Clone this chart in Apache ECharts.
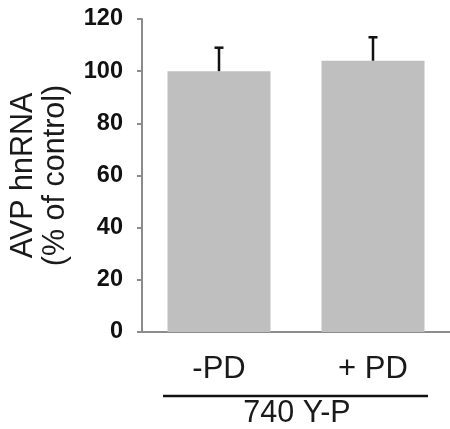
<!DOCTYPE html>
<html>
<head>
<meta charset="utf-8">
<script src="https://cdn.jsdelivr.net/npm/echarts@6/dist/echarts.min.js"></script>
<style>
  html, body { margin: 0; padding: 0; background: #fff; }
  #chart { width: 450px; height: 429px; }
</style>
</head>
<body>
<div id="chart"></div>
<script>
const categories = ['-PD', '+ PD']
const means = [100, 104]
const errors = [9, 9]
const groupLabel = '740 Y-P'

const FONT = '"Liberation Sans", Arial, sans-serif'
const chart = echarts.init(document.getElementById('chart'))

chart.setOption({
  animation: false,
  grid: { left: 139, right: 0, top: 19, bottom: 97 },
  xAxis: {
    type: 'category',
    data: categories,
    axisLine: { lineStyle: { color: '#8c8c8c', width: 2 } },
    axisTick: { show: false },
    axisLabel: { fontFamily: FONT, fontSize: 31, color: '#1a1a1a', margin: 22 }
  },
  yAxis: {
    type: 'value',
    min: 0,
    max: 120,
    interval: 20,
    name: 'AVP hnRNA\n(% of control)',
    nameLocation: 'middle',
    nameRotate: 90,
    nameGap: 70,
    nameTextStyle: { fontFamily: FONT, fontSize: 30.5, lineHeight: 32, color: '#1a1a1a' },
    axisLine: { show: true, lineStyle: { color: '#8c8c8c', width: 2 } },
    axisTick: { show: true, length: 5, lineStyle: { color: '#8c8c8c', width: 2 } },
    splitLine: { show: false },
    axisLabel: { fontFamily: FONT, fontSize: 23.5, fontWeight: 'bold', color: '#111', margin: 19 }
  },
  series: [
    {
      type: 'bar',
      data: means,
      barWidth: 103,
      itemStyle: { color: '#bfbfbf' }
    },
    {
      type: 'custom',
      data: means.map((m, i) => [i, m, m + errors[i]]),
      z: 5,
      renderItem(params, api) {
        const low = api.coord([api.value(0), api.value(1)])
        const high = api.coord([api.value(0), api.value(2)])
        const style = { stroke: '#111', lineWidth: 2.5 }
        return {
          type: 'group',
          children: [
            { type: 'line', shape: { x1: low[0], y1: low[1], x2: high[0], y2: high[1] }, style },
            { type: 'line', shape: { x1: high[0] - 4.5, y1: high[1], x2: high[0] + 4.5, y2: high[1] }, style }
          ]
        }
      }
    }
  ],
  graphic: [
    { type: 'line', shape: { x1: 163, y1: 396, x2: 428, y2: 396 }, style: { stroke: '#111', lineWidth: 2.5 } },
    {
      type: 'text', x: 297, y: 414,
      style: { text: groupLabel, font: '30.5px ' + FONT, fill: '#1a1a1a', align: 'center', verticalAlign: 'middle' }
    }
  ]
})
</script>
</body>
</html>
